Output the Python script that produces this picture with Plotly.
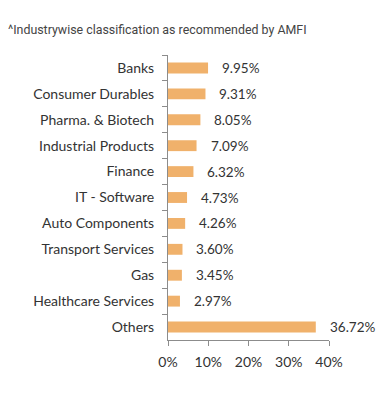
import plotly.graph_objects as go

categories = ["Banks", "Consumer Durables", "Pharma. & Biotech", "Industrial Products",
              "Finance", "IT - Software", "Auto Components", "Transport Services",
              "Gas", "Healthcare Services", "Others"]
values = [9.95, 9.31, 8.05, 7.09, 6.32, 4.73, 4.26, 3.60, 3.45, 2.97, 36.72]
x_ticks = [0, 10, 20, 30, 40]
x_tick_labels = ["0%", "10%", "20%", "30%", "40%"]

FONT = "Lato, 'Open Sans', sans-serif"
TXT = "#333333"

fig = go.Figure()
fig.add_trace(go.Bar(
    y=categories, x=values, orientation="h",
    marker=dict(color="#F0B16B", line=dict(width=0)),
    width=0.42, hoverinfo="skip",
))
for c, v in zip(categories, values):
    fig.add_annotation(x=v, y=c, text=f"{v:.2f}%", showarrow=False,
                       xanchor="left", xshift=12,
                       font=dict(family=FONT, size=13.5, color=TXT))

fig.update_layout(
    width=383, height=408,
    margin=dict(l=160, r=62, t=47, b=76),
    paper_bgcolor="white", plot_bgcolor="white",
    showlegend=False,
    font=dict(family=FONT, size=14, color=TXT),
    title=dict(text="^Industrywise classification as recommended by AMFI",
               x=0, xanchor="left", y=1-22/408, yanchor="middle",
               font=dict(family="Roboto, sans-serif", size=12.4, color="#444444")),
)
fig.update_yaxes(
    autorange="reversed", showline=True, linecolor="#8c8c8c", linewidth=1,
    ticks="outside", tickson="boundaries", ticklen=5, tickcolor="#8c8c8c",
    showgrid=False, tickfont=dict(family=FONT, size=14, color=TXT),
    ticklabelstandoff=10, automargin=False,
)
fig.update_xaxes(
    range=[0, 40], tickvals=x_ticks, ticktext=x_tick_labels,
    showline=True, linecolor="#8c8c8c", linewidth=1,
    ticks="outside", ticklen=5, tickcolor="#8c8c8c",
    showgrid=False, zeroline=False, tickfont=dict(family=FONT, size=14, color=TXT),
    ticklabelstandoff=4, automargin=False,
)

fig.write_html("out.html")
